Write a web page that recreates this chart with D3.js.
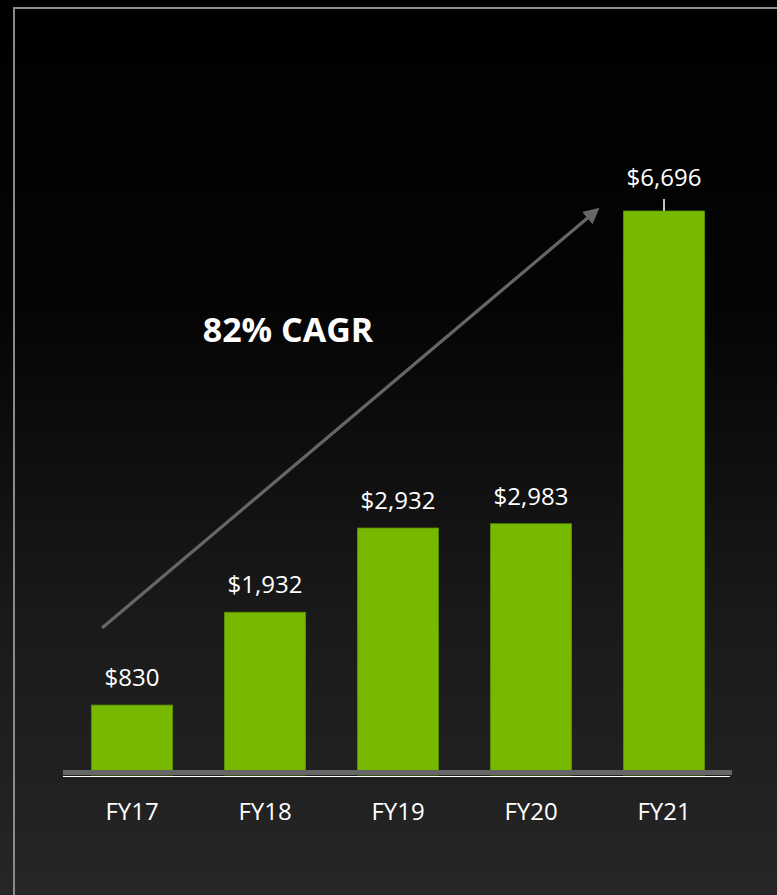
<!DOCTYPE html>
<html>
<head>
<meta charset="utf-8">
<script src="https://cdn.jsdelivr.net/npm/d3@7"></script>
<style>
  html, body { margin: 0; padding: 0; background: #000; overflow: hidden; }
  text { font-family: "Open Sans", "Noto Sans", sans-serif; fill: #fff; }
</style>
</head>
<body>
<div id="chart"></div>
<script>
// Data
var years = ["FY17", "FY18", "FY19", "FY20", "FY21"];
var revenue = [830, 1932, 2932, 2983, 6696];
var cagrLabel = "82% CAGR";

var svgWidth = 777;
var svgHeight = 895;

var svg = d3.select("#chart")
    .append("svg")
    .attr("width", svgWidth)
    .attr("height", svgHeight);

// background gradient (black at top, dark gray at bottom)
var defs = svg.append("defs");
var grad = defs.append("linearGradient")
    .attr("id", "bg")
    .attr("x1", 0).attr("y1", 0).attr("x2", 0).attr("y2", 1);
grad.append("stop").attr("offset", "0%").attr("stop-color", "#000");
grad.append("stop").attr("offset", "35%").attr("stop-color", "#050505");
grad.append("stop").attr("offset", "70%").attr("stop-color", "#1a1a1a");
grad.append("stop").attr("offset", "100%").attr("stop-color", "#262626");

defs.append("marker")
    .attr("id", "arrowhead")
    .attr("viewBox", "0 0 10 10")
    .attr("refX", 5).attr("refY", 5)
    .attr("markerWidth", 5).attr("markerHeight", 5)
    .attr("markerUnits", "strokeWidth")
    .attr("orient", "auto")
    .append("path")
    .attr("d", "M0,0 L10,5 L0,10 z")
    .attr("fill", "#666");

svg.append("rect")
    .attr("width", svgWidth)
    .attr("height", svgHeight)
    .attr("fill", "url(#bg)");

// frame (runs off the right and bottom edge)
svg.append("rect")
    .attr("x", 14).attr("y", 8)
    .attr("width", svgWidth + 20).attr("height", svgHeight + 20)
    .attr("fill", "none")
    .attr("stroke", "#8a8a8a")
    .attr("stroke-width", 2);

// Scales
var x = d3.scaleBand()
    .domain(years)
    .range([65.5, 730.5])
    .paddingInner(0.39)
    .paddingOuter(0.195);

var y = d3.scaleLinear()
    .domain([0, d3.max(revenue)])
    .range([775, 211]);

// Bars
svg.selectAll("rect.bar")
    .data(revenue)
    .enter()
    .append("rect")
    .attr("class", "bar")
    .attr("x", function (d, i) { return x(years[i]); })
    .attr("y", function (d) { return y(d); })
    .attr("width", x.bandwidth())
    .attr("height", function (d) { return y(0) - y(d); })
    .attr("fill", "#76b900")
    .attr("stroke", "#5e9400")
    .attr("stroke-width", 0.8);

// axis band: thick gray with thin white line under it
svg.append("rect")
    .attr("x", 63).attr("y", 770)
    .attr("width", 669).attr("height", 5)
    .attr("fill", "#666");
svg.append("line")
    .attr("x1", 63).attr("x2", 730)
    .attr("y1", 776.5).attr("y2", 776.5)
    .attr("stroke", "#fff")
    .attr("stroke-width", 1.2);

// Category labels
svg.selectAll("text.cat")
    .data(years)
    .enter()
    .append("text")
    .attr("class", "cat")
    .attr("x", function (d) { return x(d) + x.bandwidth() / 2; })
    .attr("y", 820)
    .attr("text-anchor", "middle")
    .style("font-size", "24px")
    .text(function (d) { return d; });

// Value labels, the tallest one is lifted with a small leader
var maxVal = d3.max(revenue);
svg.selectAll("text.val")
    .data(revenue)
    .enter()
    .append("text")
    .attr("class", "val")
    .attr("x", function (d, i) { return x(years[i]) + x.bandwidth() / 2; })
    .attr("y", function (d) { return d === maxVal ? y(d) - 25 : y(d) - 19; })
    .attr("text-anchor", "middle")
    .style("font-size", "24px")
    .text(function (d) { return "$" + d3.format(",")(d); });

revenue.forEach(function (d, i) {
    if (d !== maxVal) return;
    var cx = x(years[i]) + x.bandwidth() / 2;
    svg.append("line")
        .attr("x1", cx).attr("x2", cx)
        .attr("y1", y(d) - 12).attr("y2", y(d))
        .attr("stroke", "#fff")
        .attr("stroke-width", 1.5);
});

// Growth arrow from the first bar towards the last one
var first = x(years[0]) + x.bandwidth() / 2;
var last = x(years[years.length - 1]);
svg.append("line")
    .attr("x1", first - 30).attr("y1", 628)
    .attr("x2", last - 30).attr("y2", 213)
    .attr("stroke", "#666")
    .attr("stroke-width", 3.2)
    .attr("marker-end", "url(#arrowhead)");

svg.append("text")
    .attr("x", 288)
    .attr("y", 342)
    .attr("text-anchor", "middle")
    .style("font-size", "34px")
    .style("font-weight", "bold")
    .text(cagrLabel);
</script>
</body>
</html>
